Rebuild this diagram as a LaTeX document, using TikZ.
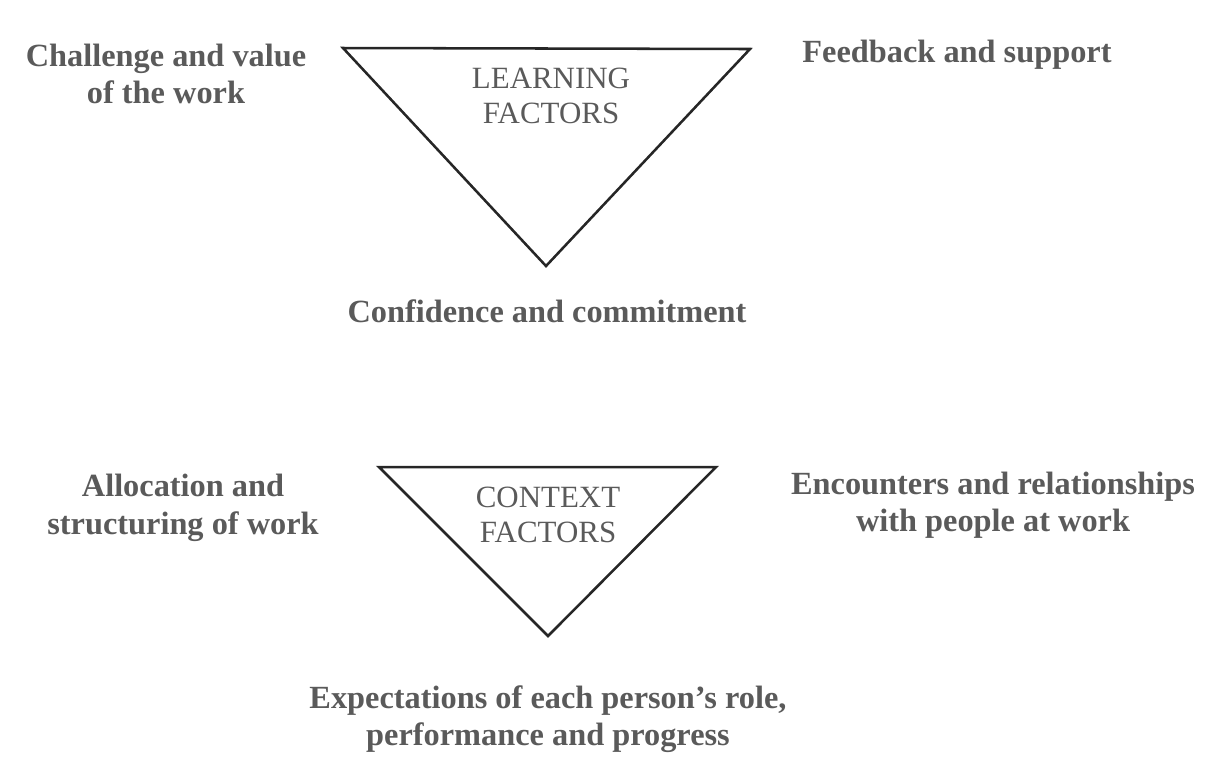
\documentclass[tikz,border=0pt]{standalone}
\usepackage{fontspec}
\setmainfont{Liberation Serif}
\definecolor{txtgray}{HTML}{5A5A5A}
\tikzset{
  lbl/.style={text=txtgray, font=\bfseries\fontsize{11.5}{13.3}\selectfont, align=center},
  factortxt/.style={text=txtgray, font=\fontsize{11}{12.6}\selectfont, align=center},
  tri/.style={draw=black!85, line width=0.9pt, line join=miter}
}
\begin{document}
\begin{tikzpicture}[x=0.0125cm, y=-0.0125cm]
\useasboundingbox (0,0) rectangle (1218,767);
% learning triangle
\draw[tri] (343,48) -- (750,49) -- (546,266) -- cycle;
\node[factortxt] (learn) at (551,96) {LEARNING\\FACTORS};
\node[lbl] (challenge) at (166,74) {Challenge and value\\of the work};
\node[lbl] (feedback) at (957,55) {Feedback and support};
\node[lbl] (confidence) at (547,311) {Confidence and commitment};

% context triangle
\draw[tri] (379,467) -- (716,467) -- (548,636) -- cycle;
\node[factortxt] (context) at (548,515) {CONTEXT\\FACTORS};
\node[lbl] (allocation) at (183,508) {Allocation and\\structuring of work};
\node[lbl] (encounters) at (993,505) {Encounters and relationships\\with people at work};
\node[lbl] (expect) at (548,719) {Expectations of each person's role,\\performance and progress};
\end{tikzpicture}
\end{document}
